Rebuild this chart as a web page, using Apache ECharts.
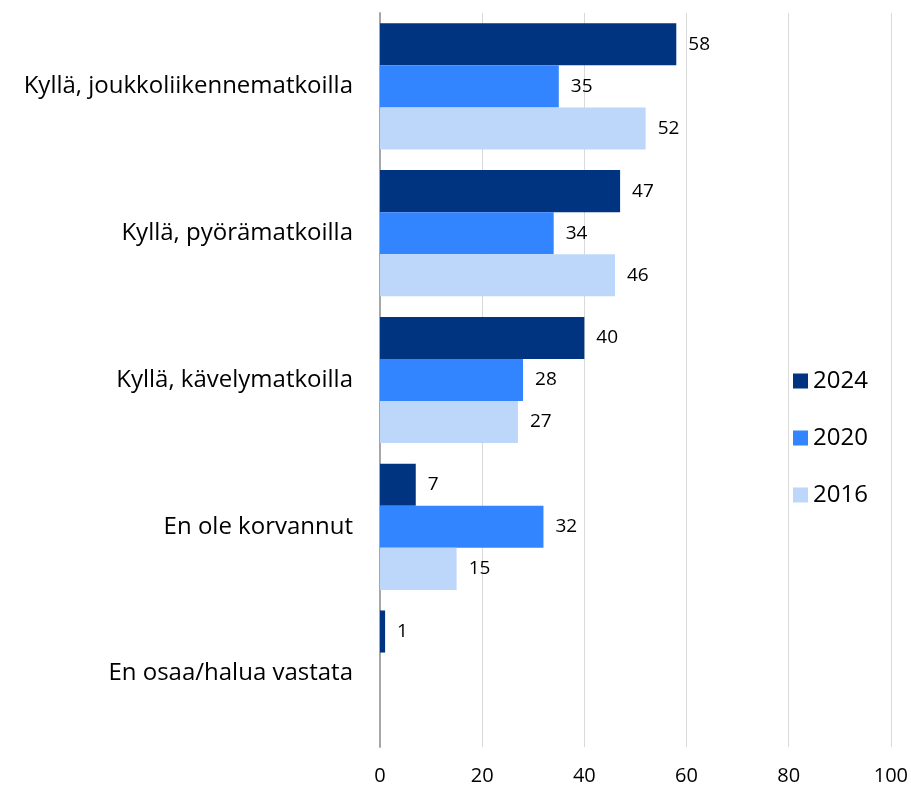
<!DOCTYPE html>
<html>
<head>
<meta charset="utf-8">
<script src="https://cdn.jsdelivr.net/npm/echarts@6/dist/echarts.min.js"></script>
<style>
  html, body { margin: 0; padding: 0; background: #fff; }
  #chart { width: 911px; height: 791px; }
</style>
</head>
<body>
<div id="chart"></div>
<script>
const categories = [
  'Kyllä, joukkoliikennematkoilla',
  'Kyllä, pyörämatkoilla',
  'Kyllä, kävelymatkoilla',
  'En ole korvannut',
  'En osaa/halua vastata'
];
const years = ['2024', '2020', '2016'];
const values2024 = [58, 47, 40, 7, 1];
const values2020 = [35, 34, 28, 32, null];
const values2016 = [52, 46, 27, 15, null];
const colors = ['#003380', '#3385ff', '#bdd7fb'];

const font = "'Open Sans', sans-serif";

const makeSeries = (name, data, color) => ({
  name: name,
  type: 'bar',
  data: data,
  barGap: '0%',
  barCategoryGap: '14%',
  itemStyle: { color: color },
  label: {
    show: true,
    position: 'right',
    distance: 12,
    color: '#000',
    fontSize: 19,
    fontFamily: font
  }
});

const chart = echarts.init(document.getElementById('chart'));
const option = {
  animation: false,
  textStyle: { fontFamily: font },
  grid: { left: 380, right: 20, top: 13, bottom: 44, containLabel: false },
  legend: {
    orient: 'vertical',
    left: 788,
    top: 364,
    itemWidth: 15,
    itemHeight: 15,
    itemGap: 33,
    icon: 'rect',
    textStyle: { fontSize: 24, color: '#000', fontFamily: font },
    data: years
  },
  xAxis: {
    type: 'value',
    min: 0,
    max: 100,
    interval: 20,
    axisLine: { show: false },
    axisTick: { show: false },
    axisLabel: { fontSize: 20, color: '#000', margin: 19, fontFamily: font },
    splitLine: { lineStyle: { color: '#d9d9d9', width: 1 } }
  },
  yAxis: {
    type: 'category',
    inverse: true,
    data: categories,
    axisLine: { show: true, lineStyle: { color: '#a6a6a6', width: 2 } },
    axisTick: { show: false },
    axisLabel: { fontSize: 24, color: '#000', margin: 27, fontFamily: font }
  },
  series: [
    makeSeries(years[0], values2024, colors[0]),
    makeSeries(years[1], values2020, colors[1]),
    makeSeries(years[2], values2016, colors[2])
  ]
};
chart.setOption(option);
</script>
</body>
</html>
